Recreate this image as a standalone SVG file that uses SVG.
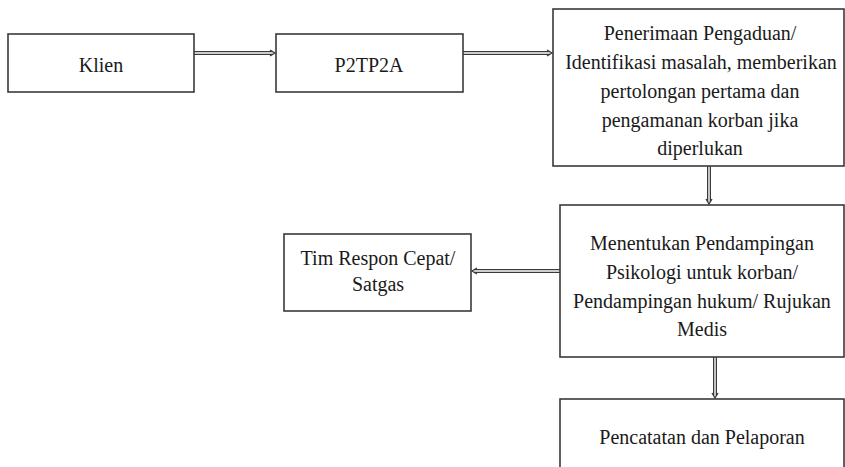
<svg xmlns="http://www.w3.org/2000/svg" width="845" height="467" viewBox="0 0 845 467">
<style>
.box{fill:#fff;stroke:#3a3a3a;stroke-width:1.6}
.sh{stroke:#3a3a3a;stroke-width:4;fill:none}
.in{stroke:#fff;stroke-width:1.4;fill:none}
.hd{fill:none;stroke:#3a3a3a;stroke-width:1.3}
.t{font-family:'Liberation Serif',serif;font-size:20px;fill:#1a1a1a;text-anchor:middle}
</style>
<rect width="845" height="467" fill="#fff"/>
<g id="connectors">
<g id="c1"><line class="sh" x1="194" y1="53" x2="273" y2="53"/><line class="in" x1="194" y1="53" x2="273" y2="53"/><polyline class="hd" points="270,50 275,53 270,56"/></g>
<g id="c2"><line class="sh" x1="463" y1="53" x2="550" y2="53"/><line class="in" x1="463" y1="53" x2="550" y2="53"/><polyline class="hd" points="547,50 552,53 547,56"/></g>
<g id="c3"><line class="sh" x1="709" y1="166" x2="709" y2="202"/><line class="in" x1="709" y1="166" x2="709" y2="202"/><polyline class="hd" points="706,199 709,204 712,199"/></g>
<g id="c4"><line class="sh" x1="560" y1="271" x2="474" y2="271"/><line class="in" x1="560" y1="271" x2="474" y2="271"/><polyline class="hd" points="477,268 472,271 477,274"/></g>
<g id="c5"><line class="sh" x1="715" y1="357" x2="715" y2="396"/><line class="in" x1="715" y1="357" x2="715" y2="396"/><polyline class="hd" points="712,393 715,398 718,393"/></g>
</g>
<g id="klien"><rect class="box" x="8" y="34" width="186" height="58"/><text class="t" x="101" y="72">Klien</text></g>
<g id="p2tp2a"><rect class="box" x="276" y="34" width="187" height="58"/><text class="t" x="369" y="72">P2TP2A</text></g>
<g id="penerimaan"><rect class="box" x="553" y="9" width="291" height="157"/>
<text class="t" x="700" y="40">Penerimaan Pengaduan/</text>
<text class="t" x="701" y="69">Identifikasi masalah, memberikan</text>
<text class="t" x="700" y="98">pertolongan pertama dan</text>
<text class="t" x="700" y="127">pengamanan korban jika</text>
<text class="t" x="700" y="155">diperlukan</text></g>
<g id="menentukan"><rect class="box" x="560" y="205" width="284" height="152"/>
<text class="t" x="702" y="250">Menentukan Pendampingan</text>
<text class="t" x="702" y="279">Psikologi untuk korban/</text>
<text class="t" x="702" y="308">Pendampingan hukum/ Rujukan</text>
<text class="t" x="702" y="336">Medis</text></g>
<g id="tim"><rect class="box" x="284" y="234" width="187" height="77"/>
<text class="t" x="378" y="265">Tim Respon Cepat/</text>
<text class="t" x="378" y="291">Satgas</text></g>
<g id="pencatatan"><rect class="box" x="560" y="399" width="284" height="80"/>
<text class="t" x="702" y="444">Pencatatan dan Pelaporan</text></g>
</svg>
